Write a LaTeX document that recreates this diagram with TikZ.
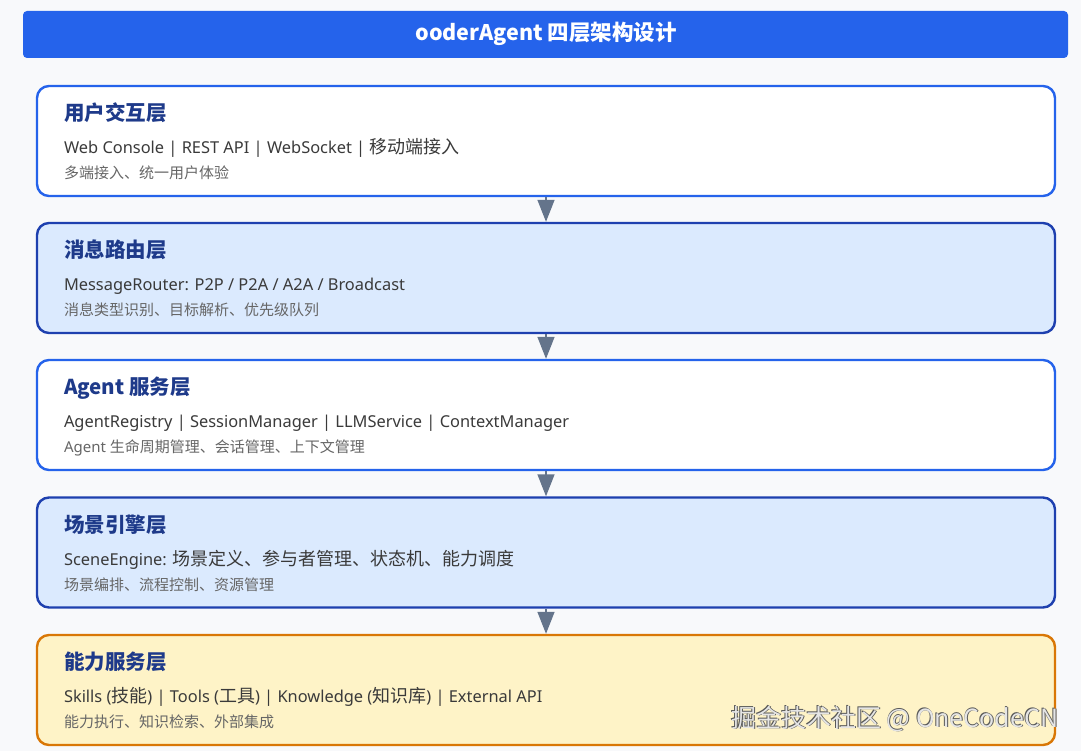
\documentclass[tikz,border=0pt]{standalone}
\usepackage{fontspec}
\setmainfont{Noto Sans}
\newfontfamily\cjk{Noto Sans CJK SC}
\usetikzlibrary{arrows.meta,calc}
\definecolor{bgc}{HTML}{F8F9FB}
\definecolor{titlebar}{HTML}{2563EB}
\definecolor{headc}{HTML}{1E3A8A}
\definecolor{bodyc}{HTML}{3A3A3A}
\definecolor{notec}{HTML}{666666}
\definecolor{blueb}{HTML}{2563EB}
\definecolor{darkb}{HTML}{1E40AF}
\definecolor{lightfill}{HTML}{DBEAFE}
\definecolor{orangeb}{HTML}{D97706}
\definecolor{yellowfill}{HTML}{FEF3C7}
\definecolor{arrowc}{HTML}{64748B}
\newcommand{\zh}[1]{{\cjk\fontsize{18}{20}\selectfont #1}}
\newcommand{\zhs}[1]{{\cjk #1}}
\tikzset{
  layerbox/.style={draw, line width=2.4pt, rounded corners=12pt, minimum width=1018pt, minimum height=110pt, inner sep=0pt},
  whitebox/.style={layerbox, draw=blueb, fill=white},
  bluebox/.style={layerbox, draw=darkb, fill=lightfill},
  yellowbox/.style={layerbox, draw=orangeb, fill=yellowfill},
  headtext/.style={anchor=base west, inner sep=0pt, text=headc, font=\cjk\bfseries\fontsize{20.5}{24}\selectfont},
  bodytext/.style={anchor=base west, inner sep=0pt, text=bodyc, font=\fontsize{16.4}{20}\selectfont},
  notetext/.style={anchor=base west, inner sep=0pt, text=notec, font=\fontsize{15}{17}\selectfont},
  flowarrow/.style={draw=arrowc, line width=1.5pt, -{Triangle[length=22pt,width=17pt]}},
  wmstyle/.style={anchor=base west, inner sep=0pt, font=\cjk\fontsize{25}{28}\selectfont},
}
\begin{document}
\begin{tikzpicture}[x=1pt,y=-1pt]
\useasboundingbox (0,0) rectangle (1081,751);
\fill[bgc] (0,0) rectangle (1081,751);
% title bar
\node[fill=titlebar, rounded corners=4pt, minimum width=1045pt, minimum height=47pt, inner sep=0pt] (title) at (545.5,34.5) {};
\node[text=white, font=\cjk\bfseries\fontsize{21.5}{25}\selectfont, inner sep=0pt] (titletext) at (546,34) {ooderAgent 四层架构设计};
% layers
\node[whitebox] (l1) at (546,141) {};
\node[bluebox] (l2) at (546,278) {};
\node[whitebox] (l3) at (546,415) {};
\node[bluebox] (l4) at (546,552.5) {};
\node[yellowbox] (l5) at (546,690) {};
% arrows
\draw[flowarrow] (l1.south) -- (l2.north);
\draw[flowarrow] (l2.south) -- (l3.north);
\draw[flowarrow] (l3.south) -- (l4.north);
\draw[flowarrow] (l4.south) -- (l5.north);
% texts layer 1
\node[headtext] (h1) at ([xshift=28pt,yshift=-36pt]l1.north west) {用户交互层};
\node[bodytext] (b1) at ([xshift=28pt,yshift=-69pt]l1.north west) {Web Console | REST API | WebSocket | \zh{移动端接入}};
\node[notetext] (n1) at ([xshift=28pt,yshift=-94pt]l1.north west) {\cjk 多端接入、统一用户体验};
% layer 2
\node[headtext] (h2) at ([xshift=28pt,yshift=-36pt]l2.north west) {消息路由层};
\node[bodytext] (b2) at ([xshift=28pt,yshift=-69pt]l2.north west) {MessageRouter: P2P / P2A / A2A / Broadcast};
\node[notetext] (n2) at ([xshift=28pt,yshift=-94pt]l2.north west) {\cjk 消息类型识别、目标解析、优先级队列};
% layer 3
\node[headtext] (h3) at ([xshift=28pt,yshift=-36pt]l3.north west) {Agent 服务层};
\node[bodytext] (b3) at ([xshift=28pt,yshift=-69pt]l3.north west) {AgentRegistry | SessionManager | LLMService | ContextManager};
\node[notetext] (n3) at ([xshift=28pt,yshift=-94pt]l3.north west) {Agent \zhs{生命周期管理、会话管理、上下文管理}};
% layer 4
\node[headtext] (h4) at ([xshift=28pt,yshift=-36pt]l4.north west) {场景引擎层};
\node[bodytext] (b4) at ([xshift=28pt,yshift=-69pt]l4.north west) {SceneEngine: \zh{场景定义、参与者管理、状态机、能力调度}};
\node[notetext] (n4) at ([xshift=28pt,yshift=-94pt]l4.north west) {\cjk 场景编排、流程控制、资源管理};
% layer 5
\node[headtext] (h5) at ([xshift=28pt,yshift=-36pt]l5.north west) {能力服务层};
\node[bodytext] (b5) at ([xshift=28pt,yshift=-69pt]l5.north west) {Skills (\zh{技能}) | Tools (\zh{工具}) | Knowledge (\zh{知识库}) | External API};
\node[notetext] (n5) at ([xshift=28pt,yshift=-94pt]l5.north west) {\cjk 能力执行、知识检索、外部集成};
% watermark
\node[wmstyle, text=black!65] (wmshadow) at (731.9,727.9) {掘金技术社区 @ OneCodeCN};
\node[wmstyle, text=black!65] (wmshadow2) at (730.3,726.3) {掘金技术社区 @ OneCodeCN};
\node[wmstyle, text=white!90!black] (wm) at (731,727) {掘金技术社区 @ OneCodeCN};
\end{tikzpicture}
\end{document}
